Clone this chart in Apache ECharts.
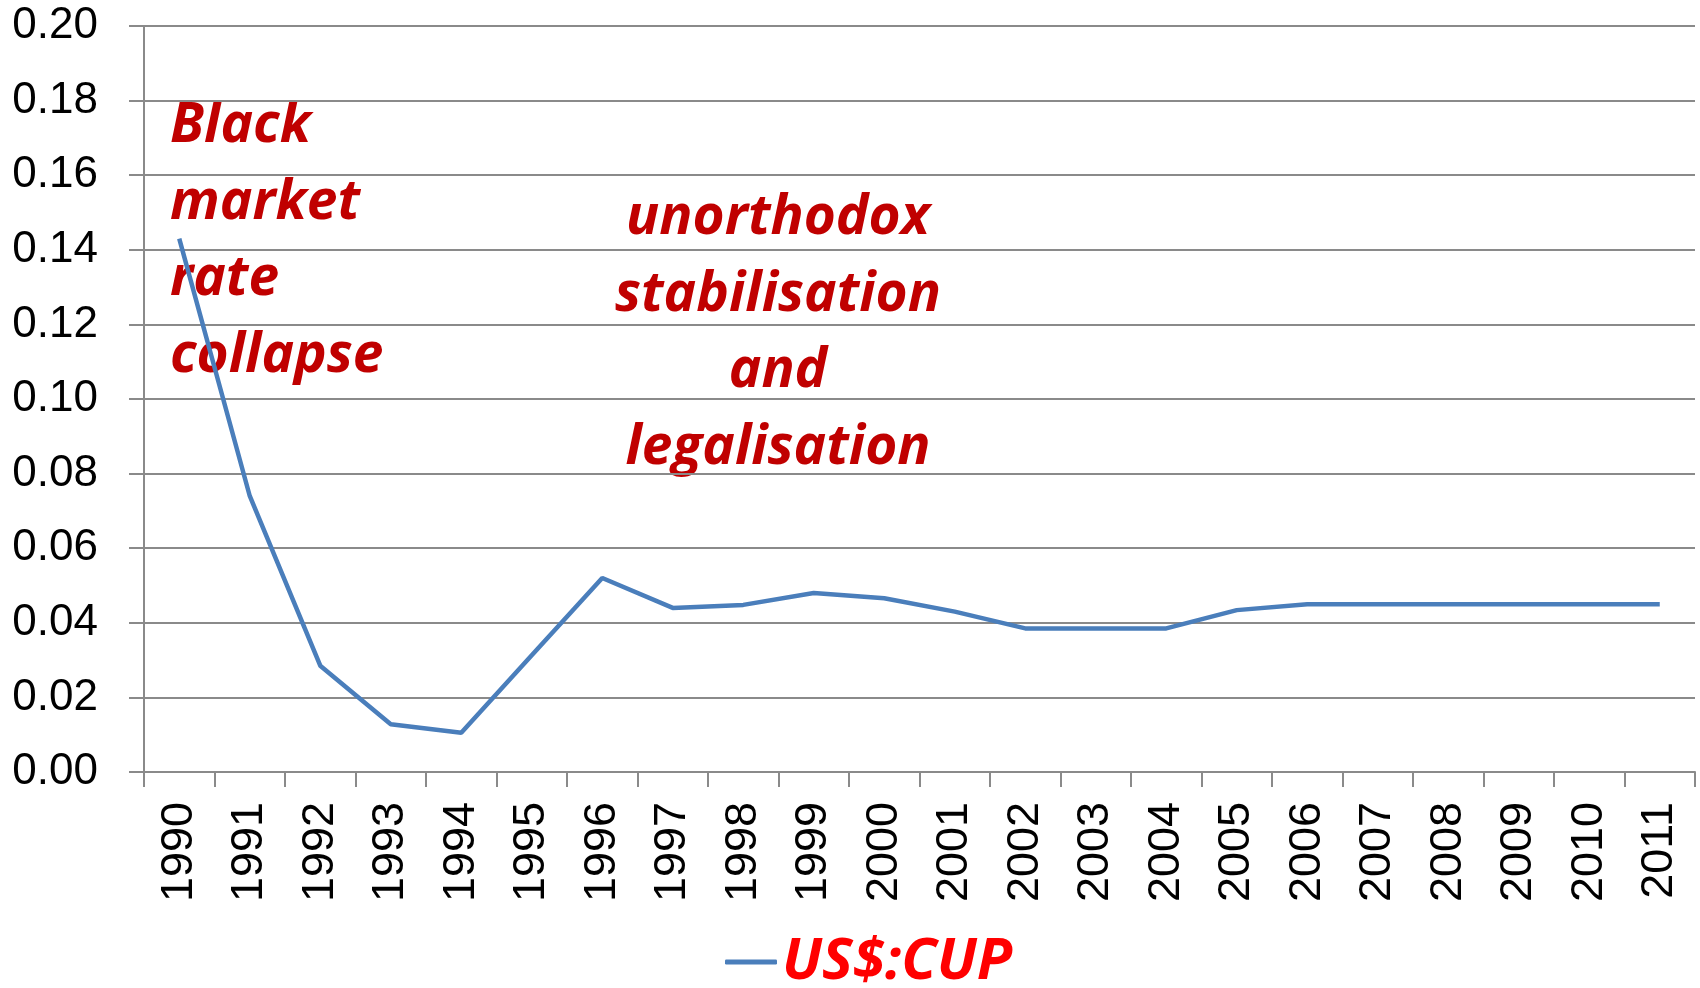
<!DOCTYPE html>
<html>
<head>
<meta charset="utf-8">
<script src="https://cdn.jsdelivr.net/npm/echarts@6/dist/echarts.min.js"></script>
<style>html,body{margin:0;padding:0;background:#fff}#c{width:1700px;height:988px}</style>
</head>
<body>
<div id="c"></div>
<script>
const years = ['1990','1991','1992','1993','1994','1995','1996','1997','1998','1999','2000','2001','2002','2003','2004','2005','2006','2007','2008','2009','2010','2011'];
const rate = [0.143, 0.074, 0.0285, 0.0128, 0.0105, 0.0313, 0.052, 0.044, 0.0448, 0.048, 0.0466, 0.043, 0.0385, 0.0385, 0.0385, 0.0434, 0.045, 0.045, 0.045, 0.045, 0.045, 0.045];
const seriesName = 'US$:CUP';
const note1 = ['Black', 'market', 'rate', 'collapse'];
const note2 = ['unorthodox', 'stabilisation', 'and', 'legalisation'];

const chart = echarts.init(document.getElementById('c'));
const noteFont = 'italic bold 55px "Open Sans"';
const gray = '#8a8a8a';
chart.setOption({
  animation: false,
  grid: {left: 144, right: 5, top: 26, bottom: 216, containLabel: false},
  legend: {
    data: [seriesName],
    left: 720, top: 928,
    itemWidth: 52, itemHeight: 5, itemGap: 8,
    icon: 'roundRect',
    textStyle: {color: '#FF0000', fontSize: 58, fontWeight: 'bold', fontStyle: 'italic', fontFamily: 'Open Sans'}
  },
  xAxis: {
    type: 'category', data: years, boundaryGap: true,
    axisLine: {lineStyle: {color: gray, width: 2}},
    axisTick: {show: true, interval: 0, length: 15, lineStyle: {color: gray, width: 2}},
    axisLabel: {interval: 0, rotate: 90, margin: 30, color: '#000', fontSize: 45, fontFamily: 'Liberation Sans'}
  },
  yAxis: {
    type: 'value', min: 0, max: 0.2, interval: 0.02,
    axisLine: {show: true, lineStyle: {color: gray, width: 2}},
    axisTick: {show: true, length: 15, lineStyle: {color: gray, width: 2}},
    splitLine: {lineStyle: {color: gray, width: 2}},
    axisLabel: {margin: 46, color: '#000', fontSize: 44, fontFamily: 'Liberation Sans', formatter: v => v.toFixed(2)}
  },
  series: [{
    name: seriesName, type: 'line', data: rate, symbol: 'none',
    lineStyle: {color: '#4A7EBB', width: 4.5}, itemStyle: {color: '#4A7EBB'}
  }],
  graphic: [
    ...note1.map((t, i) => ({type: 'text', left: 170, top: 99 + i * 76.5,
      style: {text: t, font: noteFont, fill: '#C00000'}})),
    ...note2.map((t, i) => ({type: 'text', x: 778, y: 191 + i * 76.5,
      style: {text: t, font: noteFont, fill: '#C00000', textAlign: 'center', textVerticalAlign: 'top'}}))
  ]
});
</script>
</body>
</html>
